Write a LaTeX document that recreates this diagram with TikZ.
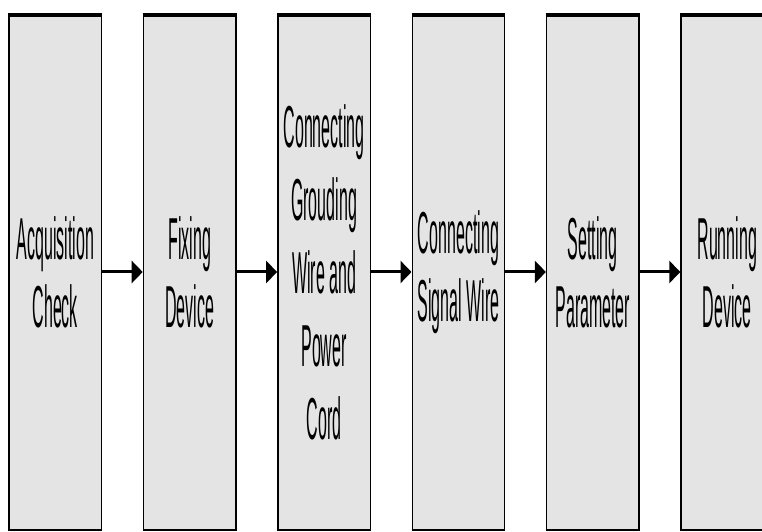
\documentclass[tikz,border=0pt]{standalone}
\usepackage{fontspec}
\setmainfont{Liberation Sans}
\usetikzlibrary{arrows.meta}
\definecolor{boxgray}{RGB}{228,228,228}
\newcommand{\sq}[1]{\scalebox{1}[3.7]{#1}}
\tikzset{
  stage/.style={draw=black, line width=1.4pt, fill=boxgray, minimum width=92.5pt,
    minimum height=516pt, inner sep=0pt, align=center,
    font=\fontsize{16}{68}\selectfont, text=black},
  tallstage/.style={stage, font=\fontsize{16}{73}\selectfont},
  topbar/.style={line width=4.5pt},
  flow/.style={line width=3pt, -{Triangle[length=11pt,width=22pt]}}
}
\begin{document}
\begin{tikzpicture}[x=1pt,y=1pt]
\useasboundingbox (0,0) rectangle (762,532);
\clip (0,0) rectangle (762,532);
\node[stage] (b1) at (55.25,260) {\sq{Acquisition}\\\sq{Check}};
\node[stage] (b2) at (189.65,260) {\sq{Fixing}\\\sq{Device}};
\node[tallstage] (b3) at (324.05,260) {\sq{Connecting}\\\sq{Grouding}\\\sq{Wire and}\\\sq{Power}\\\sq{Cord}};
\node[stage] (b4) at (458.45,260) {\sq{Connecting}\\\sq{Signal Wire}};
\node[stage] (b5) at (592.85,260) {\sq{Setting}\\\sq{Parameter}};
\node[stage] (b6) at (727.25,260) {\sq{Running}\\\sq{Device}};
\foreach \b in {b1,b2,b3,b4,b5,b6}
  \draw[topbar] ([yshift=-1.5pt]\b.north west) -- ([yshift=-1.5pt]\b.north east);
\draw[flow] (b1) -- (b2);
\draw[flow] (b2) -- (b3);
\draw[flow] (b3) -- (b4);
\draw[flow] (b4) -- (b5);
\draw[flow] (b5) -- (b6);
\end{tikzpicture}
\end{document}
